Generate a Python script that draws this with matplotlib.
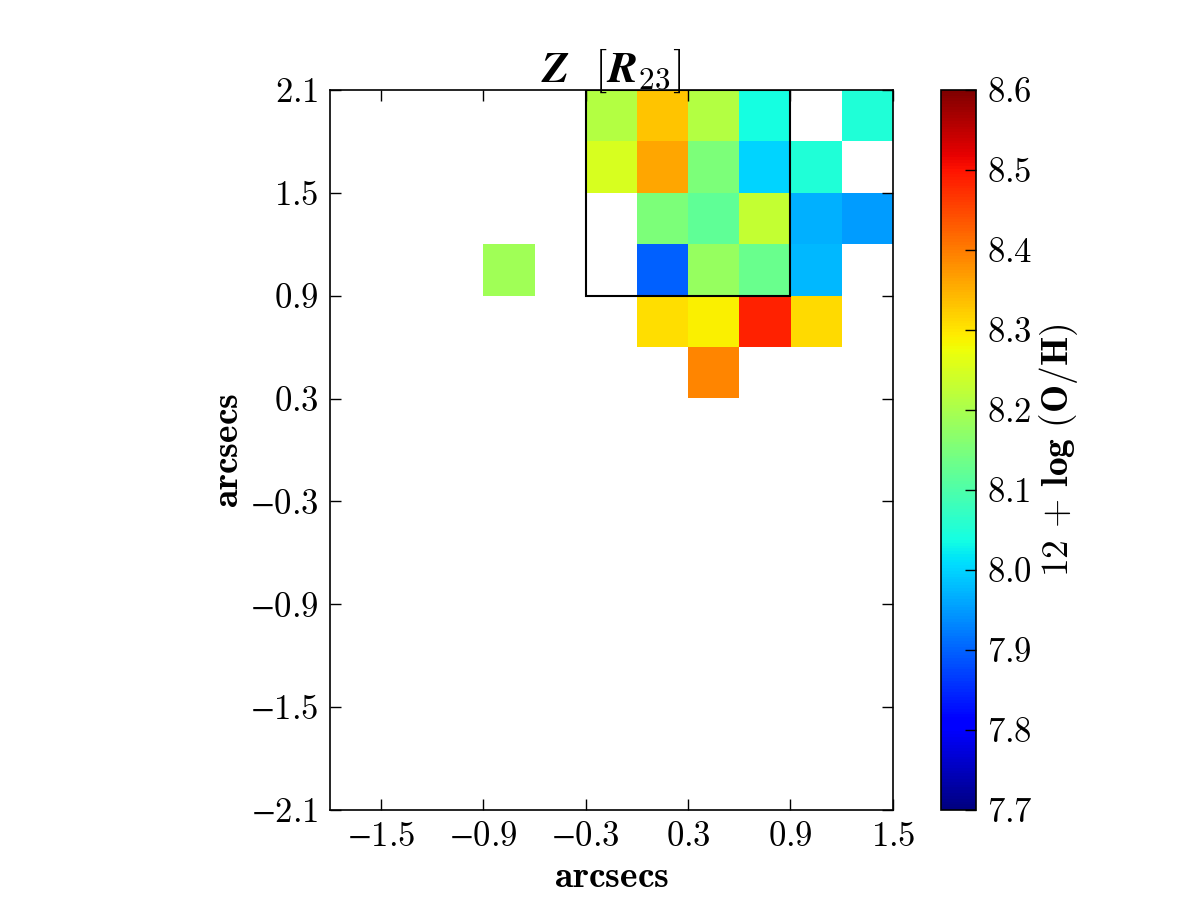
import numpy as np
import matplotlib
matplotlib.use("Agg")
import matplotlib.pyplot as plt
from matplotlib.patches import Rectangle
from matplotlib.ticker import FuncFormatter

plt.rcParams["mathtext.fontset"] = "cm"
plt.rcParams["font.family"] = "serif"
plt.rcParams["font.serif"] = ["cmr10", "DejaVu Serif"]
plt.rcParams["axes.unicode_minus"] = False

# metallicity map, top rows only (y from 2.1 down), columns x from -1.8 to 1.5
nan = np.nan
rows_top = [
    [nan, nan, nan, nan, nan, 8.21, 8.33, 8.21, 8.04, nan, 8.05],
    [nan, nan, nan, nan, nan, 8.25, 8.36, 8.15, 8.00, 8.05, nan],
    [nan, nan, nan, nan, nan, nan, 8.15, 8.12, 8.23, 7.97, 7.95],
    [nan, nan, nan, 8.19, nan, nan, 7.90, 8.18, 8.13, 7.975, nan],
    [nan, nan, nan, nan, nan, nan, 8.305, 8.29, 8.485, 8.31, nan],
    [nan, nan, nan, nan, nan, nan, nan, 8.39, nan, nan, nan],
]
n_rows = 14
n_cols = 11
extent = [-1.8, 1.5, -2.1, 2.1]
vmin, vmax = 7.7, 8.6
box = (-0.3, 0.9, 1.2, 1.2)  # x0, y0, width, height
xticks = [-1.5, -0.9, -0.3, 0.3, 0.9, 1.5]
yticks = [-2.1, -1.5, -0.9, -0.3, 0.3, 0.9, 1.5, 2.1]
cticks = [7.7, 7.8, 7.9, 8.0, 8.1, 8.2, 8.3, 8.4, 8.5, 8.6]


def tex_fmt(v, pos):
    if v < 0:
        return r"$\minus%.1f$" % abs(v)
    return r"$%.1f$" % v


grid = np.full((n_rows, n_cols), np.nan)
grid[:len(rows_top)] = np.array(rows_top)

fig = plt.figure(figsize=(12, 9), dpi=100)
ax = fig.add_axes([0.275, 0.1, 0.469, 0.8])
im = ax.imshow(np.ma.masked_invalid(grid), cmap="jet", vmin=vmin, vmax=vmax,
               extent=extent, origin="upper", interpolation="nearest", aspect="auto")
ax.add_patch(Rectangle((box[0], box[1]), box[2], box[3], fill=False,
                       edgecolor="black", linewidth=1.5))
ax.set_xlim(extent[0], extent[1])
ax.set_ylim(extent[2], extent[3])
ax.set_xticks(xticks)
ax.set_yticks(yticks)
ax.xaxis.set_major_formatter(FuncFormatter(tex_fmt))
ax.yaxis.set_major_formatter(FuncFormatter(tex_fmt))
ax.tick_params(direction="in", length=8, width=1, top=True, right=True,
               labelsize=25, pad=8)
for s in ax.spines.values():
    s.set_linewidth(1.2)
ax.set_xlabel(r"$\mathbf{arcsecs}$", fontsize=27, labelpad=6)
ax.set_ylabel(r"$\mathbf{arcsecs}$", fontsize=27, labelpad=4)
ax.set_title(r"$\boldsymbol{Z}\ \ [\boldsymbol{R}_{\mathbf{23}}]$",
             fontsize=32, pad=6)

cax = fig.add_axes([0.784, 0.1, 0.029, 0.8])
cb = fig.colorbar(im, cax=cax, ticks=cticks)
cb.ax.yaxis.set_major_formatter(FuncFormatter(tex_fmt))
cb.ax.tick_params(direction="in", length=8, width=1, labelsize=25, pad=8)
cb.outline.set_linewidth(1.2)
cb.set_label(r"$\mathbf{12\,+\,log\ (O/H)}$", fontsize=27, labelpad=3)

fig.savefig("out.png", dpi=100)
